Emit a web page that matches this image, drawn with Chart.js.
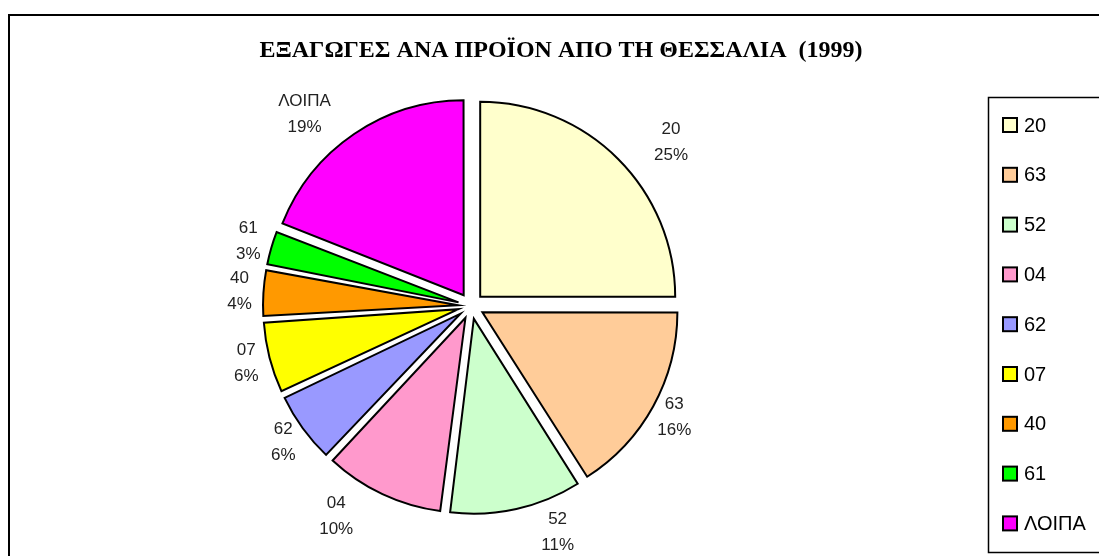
<!DOCTYPE html>
<html>
<head>
<meta charset="utf-8">
<script src="https://cdn.jsdelivr.net/npm/chart.js@4"></script>
<style>
  html, body { margin: 0; padding: 0; background: #fff; }
  #wrap { width: 1099px; height: 556px; position: relative; }
</style>
</head>
<body>
<div id="wrap"><canvas id="pie"></canvas></div>
<script>
const categories = ['20', '63', '52', '04', '62', '07', '40', '61', 'ΛΟΙΠΑ'];
const shares = [25, 16, 11, 10, 6, 6, 4, 3, 19];
const colours = ['#FFFFCC', '#FFCC99', '#CCFFCC', '#FF99CC', '#9999FF', '#FFFF00', '#FF9900', '#00FF00', '#FF00FF'];
const title = 'ΕΞΑΓΩΓΕΣ ΑΝΑ ΠΡΟΪΟΝ ΑΠΟ ΤΗ ΘΕΣΣΑΛΙΑ  (1999)';

const RADIUS = 195;
const EXPLODE = 52; // chart.js moves arcs by offset / 4

// chart.js grows the radius of thin exploded slices, undo that
const keepRadius = {
    id: 'keepRadius',
    afterDatasetsUpdate(chart) {
        const meta = chart.getDatasetMeta(0);
        meta.data.forEach(arc => {
            const fix = 1 - Math.sin(Math.min(Math.PI, arc.circumference));
            arc.outerRadius = RADIUS - (EXPLODE / 4) * fix;
        });
    }
};

const frame = {
    id: 'frame',
    beforeDraw(chart) {
        const ctx = chart.ctx;
        ctx.save();
        ctx.strokeStyle = '#000';
        ctx.lineWidth = 2;
        ctx.beginPath();
        ctx.moveTo(9, chart.height + 5);
        ctx.lineTo(9, 15);
        ctx.lineTo(chart.width + 5, 15);
        ctx.stroke();

        ctx.fillStyle = '#000';
        ctx.font = 'bold 24px "Liberation Serif", "Times New Roman", serif';
        ctx.textAlign = 'center';
        ctx.textBaseline = 'middle';
        ctx.fillText(title, 561, 51);
        ctx.restore();
    }
};

const sliceLabels = {
    id: 'sliceLabels',
    afterDatasetsDraw(chart) {
        const ctx = chart.ctx;
        const data = chart.data.datasets[0].data;
        const total = data.reduce((a, b) => a + b, 0);
        const meta = chart.getDatasetMeta(0);
        ctx.save();
        ctx.fillStyle = '#222';
        ctx.font = '17px "Liberation Sans", Arial, sans-serif';
        ctx.textAlign = 'center';
        ctx.textBaseline = 'middle';
        meta.data.forEach((arc, i) => {
            const mid = (arc.startAngle + arc.endAngle) / 2;
            const c = Math.cos(mid), s = Math.sin(mid);
            // labels near top / bottom get pushed sideways, off the slice
            const push = Math.abs(s) > 0.65 ? Math.sign(c) * 36 : 0;
            const x = arc.x + c * 232 + push;
            const y = arc.y + s * 232;
            ctx.fillText(chart.data.labels[i], x, y - 13);
            ctx.fillText(Math.round(data[i] / total * 100) + '%', x, y + 13);
        });
        ctx.restore();
    }
};

const boxLegend = {
    id: 'boxLegend',
    afterDraw(chart) {
        const ctx = chart.ctx;
        const ds = chart.data.datasets[0];
        ctx.save();
        ctx.strokeStyle = '#000';
        ctx.lineWidth = 1.5;
        ctx.strokeRect(988.5, 97.5, 130, 455);
        ctx.font = '20px "Liberation Sans", Arial, sans-serif';
        ctx.textBaseline = 'middle';
        chart.data.labels.forEach((lab, i) => {
            const cy = 125 + i * 49.8;
            ctx.fillStyle = ds.backgroundColor[i];
            ctx.fillRect(1003, cy - 7, 14, 14);
            ctx.lineWidth = 2;
            ctx.strokeRect(1003, cy - 7, 14, 14);
            ctx.fillStyle = '#000';
            ctx.fillText(lab, 1024, cy + 1);
        });
        ctx.restore();
    }
};

new Chart(document.getElementById('pie').getContext('2d'), {
    type: 'pie',
    data: {
        labels: categories,
        datasets: [{
            data: shares,
            backgroundColor: colours,
            borderColor: '#000',
            borderWidth: 2,
            borderJoinStyle: 'miter',
            offset: EXPLODE,
            radius: RADIUS
        }]
    },
    options: {
        animation: false,
        responsive: true,
        maintainAspectRatio: false,
        layout: { padding: { left: 60, right: 217, top: 80, bottom: 24 } },
        plugins: {
            legend: { display: false },
            title: { display: false },
            tooltip: { enabled: false }
        }
    },
    plugins: [keepRadius, frame, sliceLabels, boxLegend]
});
</script>
</body>
</html>
